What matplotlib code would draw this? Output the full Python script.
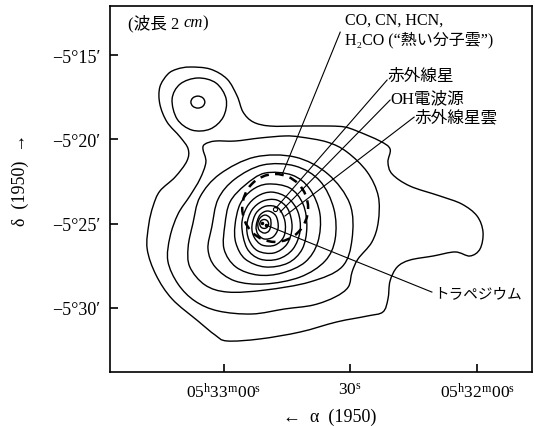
import numpy as np
import matplotlib
matplotlib.use('Agg')
import matplotlib.pyplot as plt
from matplotlib.path import Path
from matplotlib.patches import PathPatch, Ellipse

plt.rcParams['font.family'] = ['Liberation Serif', 'DejaVu Serif', 'Noto Sans CJK JP']
plt.rcParams['mathtext.fontset'] = 'custom'
plt.rcParams['mathtext.rm'] = 'Liberation Serif'
plt.rcParams['mathtext.it'] = 'Liberation Serif:italic'

# x: right ascension, seconds after 05h32m00s (1950); y: declination, arcmin below -5 deg
ra_ticks = [60, 30, 0]
ra_labels = [r'05$^{\rm h}$33$^{\rm m}$00$^{\rm s}$', r'30$^{\rm s}$', r'05$^{\rm h}$32$^{\rm m}$00$^{\rm s}$']
dec_ticks = [-15, -20, -25, -30]
dec_labels = ['\u22125\u00b015\u2032', '\u22125\u00b020\u2032', '\u22125\u00b025\u2032', '\u22125\u00b030\u2032']

# traced 2 cm contours (outermost first)
c1 = [(68.0, -15.71), (63.2, -15.83), (59.2, -16.42), (56.8, -17.43), (55.4, -18.38), (53.0, -18.97),
      (49.0, -19.21), (41.9, -19.21), (34.8, -19.21), (31.3, -19.27), (28.4, -19.51), (23.0, -20.10),
      (20.6, -20.57), (21.1, -21.35), (20.1, -22.06), (15.9, -22.77), (8.8, -23.36), (3.6, -23.84),
      (0.0, -24.55), (-1.4, -25.50), (-0.7, -26.50), (1.7, -26.92), (5.2, -26.68), (10.4, -26.92),
      (15.9, -27.16), (18.9, -27.57), (20.6, -28.40), (21.1, -29.47), (22.3, -30.24), (26.0, -30.48),
      (33.2, -30.83), (41.9, -31.43), (51.4, -31.84), (59.2, -31.96), (62.0, -31.61), (66.1, -30.77),
      (72.2, -29.47), (76.0, -28.05), (78.1, -26.50), (77.7, -25.02), (76.7, -23.96), (75.1, -23.07),
      (71.5, -22.24), (68.7, -21.29), (68.4, -20.57), (70.3, -19.86), (73.4, -18.97), (75.1, -17.91),
      (75.1, -16.90), (73.2, -16.13), (71.0, -15.83)]
c2 = [(64.4, -20.28), (62.0, -20.10), (57.3, -20.10), (51.4, -19.92), (45.5, -19.80), (41.9, -19.86),
      (35.5, -20.16), (30.8, -20.75), (26.0, -21.94), (23.4, -23.36), (23.4, -24.90), (24.9, -26.09),
      (28.2, -27.10), (29.6, -27.87), (30.5, -28.76), (33.6, -29.35), (38.8, -29.83), (45.5, -30.06),
      (53.3, -30.36), (61.3, -30.18), (66.8, -29.59), (70.8, -28.58), (73.2, -27.22), (72.7, -25.79),
      (70.8, -24.43), (68.0, -23.36), (65.6, -22.35), (64.2, -21.35), (64.9, -20.57)]
c3 = [(67.3, -25.02), (65.6, -23.42), (60.9, -22.06), (52.6, -21.05), (43.1, -21.05), (35.3, -22.06),
      (30.1, -23.84), (29.6, -25.91), (32.0, -27.57), (39.6, -28.46), (50.2, -28.94), (59.0, -29.06),
      (64.4, -28.64), (68.0, -27.57), (68.4, -26.39)]
c4 = [(62.8, -25.20), (61.3, -23.54), (57.3, -22.35), (50.7, -21.52), (43.1, -21.58), (37.2, -22.47),
      (33.9, -24.13), (33.6, -25.91), (36.0, -27.22), (41.9, -28.17), (50.2, -28.58), (57.3, -28.40),
      (62.0, -27.57), (63.7, -26.51)]
c5 = [(59.7, -25.08), (58.5, -23.72), (54.9, -22.71), (50.2, -22.00), (43.8, -22.12), (39.6, -22.95),
      (37.2, -24.43), (37.7, -26.09), (40.7, -27.28), (46.2, -27.93), (51.9, -28.05), (57.1, -27.57),
      (59.9, -26.51)]
c6 = [(57.3, -25.08), (56.1, -23.84), (53.3, -23.01), (49.5, -22.65), (44.3, -22.89), (41.2, -23.84),
      (40.3, -25.20), (41.4, -26.51), (44.8, -27.34), (50.2, -27.57), (54.9, -27.10), (57.1, -26.15)]
c7 = [(55.7, -25.08), (54.5, -24.02), (51.9, -23.36), (48.5, -23.13), (44.8, -23.48), (42.4, -24.31),
      (41.9, -25.44), (43.6, -26.51), (47.1, -27.10), (51.4, -27.10), (54.5, -26.45)]
c8 = [(54.5, -25.08), (53.3, -24.19), (50.7, -23.66), (47.4, -23.60), (44.8, -24.13), (43.8, -25.20),
      (45.0, -26.21), (48.1, -26.74), (51.9, -26.62), (54.0, -25.97)]
c9 = [(53.3, -25.14), (52.3, -24.37), (50.0, -23.96), (47.1, -24.07), (45.5, -24.85), (45.7, -25.74),
      (47.8, -26.27), (50.9, -26.27), (52.8, -25.79)]
c10 = [(52.3, -25.14), (51.4, -24.49), (49.5, -24.25), (47.6, -24.55), (47.1, -25.26), (48.3, -25.79),
       (50.4, -25.91), (51.9, -25.62)]
c11 = [(51.9, -25.02), (51.4, -24.67), (50.2, -24.49), (49.0, -24.67), (48.8, -25.08), (49.3, -25.44),
       (50.4, -25.56), (51.6, -25.38)]
blob2 = [(72.2, -17.61), (70.3, -16.72), (66.1, -16.36), (61.8, -16.66), (59.4, -17.61), (60.1, -18.68),
         (63.2, -19.39), (67.5, -19.45), (71.0, -18.80)]
contours = [c1, c2, c3, c4, c5, c6, c7, c8, c9, c10, c11, blob2]

# small closed rings: (ra, dec, width s, height arcmin)
blob_peak = (66.1, -17.79, 3.3, 0.71)
trap_peak = (50.4, -25.02, 2.1, 0.53)
hot_core = (47.8, -24.07, 15.6, 4.03)   # dashed circle
trap_stars_x = [50.9, 50.0]
trap_stars_y = [-24.98, -25.08]
bn_x, bn_y = 47.8, -24.15

labels = ['CO, CN, HCN,', 'H\u2082CO (\u201c熱い分子雲\u201d)', '赤外線星', 'OH電波源', '赤外線星雲', 'トラペジウム']
label_pos = [(31.3, -12.87), (31.3, -14.05), (21.1, -16.25), (20.6, -17.55), (14.9, -18.68), (10.2, -29.17)]
leader_start = [(32.4, -13.64), (21.3, -16.48), (20.6, -17.67), (14.9, -18.68), (10.7, -29.06)]
leader_end = [(46.2, -22.12), (47.6, -24.07), (46.6, -24.31), (45.5, -24.55), (50.0, -25.08)]


def closed_curve(pts):
    p = np.asarray(pts, dtype=float)
    n = len(p)
    verts = [p[0]]
    codes = [Path.MOVETO]
    for i in range(n):
        p0, p1, p2, p3 = p[i - 1], p[i], p[(i + 1) % n], p[(i + 2) % n]
        verts += [p1 + (p2 - p0) / 6, p2 - (p3 - p1) / 6, p2]
        codes += [Path.CURVE4] * 3
    return Path(verts, codes)


fig = plt.figure(figsize=(5.35, 4.27), dpi=100)
ax = fig.add_axes([0.2056, 0.1265, 0.7888, 0.8571])

for c in contours:
    ax.add_patch(PathPatch(closed_curve(c), fill=False, lw=1.0, color='black'))
for ra, de, w, h in [blob_peak, trap_peak]:
    ax.add_patch(Ellipse((ra, de), w, h, fill=False, lw=1.0, color='black'))
ax.add_patch(Ellipse(hot_core[:2], hot_core[2], hot_core[3], fill=False, lw=1.8,
                     color='black', linestyle=(0, (3.5, 2.5))))
ax.plot(trap_stars_x, trap_stars_y, 'o', ms=1.5, color='black')
ax.plot([bn_x], [bn_y], 'o', ms=3, mfc='white', mec='black', mew=0.8)

for (x0, y0), (x1, y1) in zip(leader_start, leader_end):
    ax.plot([x0, x1], [y0, y1], color='black', lw=0.8)

for i, (txt, (x, y)) in enumerate(zip(labels, label_pos)):
    size = 11.5 if i < 2 else (10.5 if i == 5 else 12)
    ax.text(x, y, txt, ha='left', va='center', fontsize=size)

t1 = ax.text(0.043, 0.955, '(波長 2 ', transform=ax.transAxes, ha='left', va='center', fontsize=12)
t2 = ax.annotate('cm', xy=(1, 0.5), xycoords=t1, ha='left', va='center', fontsize=12, style='italic')
ax.annotate(')', xy=(1, 0.5), xycoords=t2, ha='left', va='center', fontsize=12)

ax.set_xlim(86.9, -13.0)
ax.set_ylim(-33.8, -12.09)
ax.set_xticks(ra_ticks)
ax.set_xticklabels(ra_labels, fontsize=12.5)
ax.set_yticks(dec_ticks)
ax.set_yticklabels(dec_labels, fontsize=13)
ax.tick_params(direction='in', length=6, width=1.2, pad=7)
for s in ax.spines.values():
    s.set_linewidth(1.2)

fig.text(20 / 535, 1 - 180 / 427, '\u03b4  (1950)  \u2192', rotation=90, ha='center', va='center', fontsize=13)
fig.text(330 / 535, 1 - 417 / 427, '\u2190  \u03b1  (1950)', ha='center', va='center', fontsize=13)

fig.savefig('out.png', dpi=100)
